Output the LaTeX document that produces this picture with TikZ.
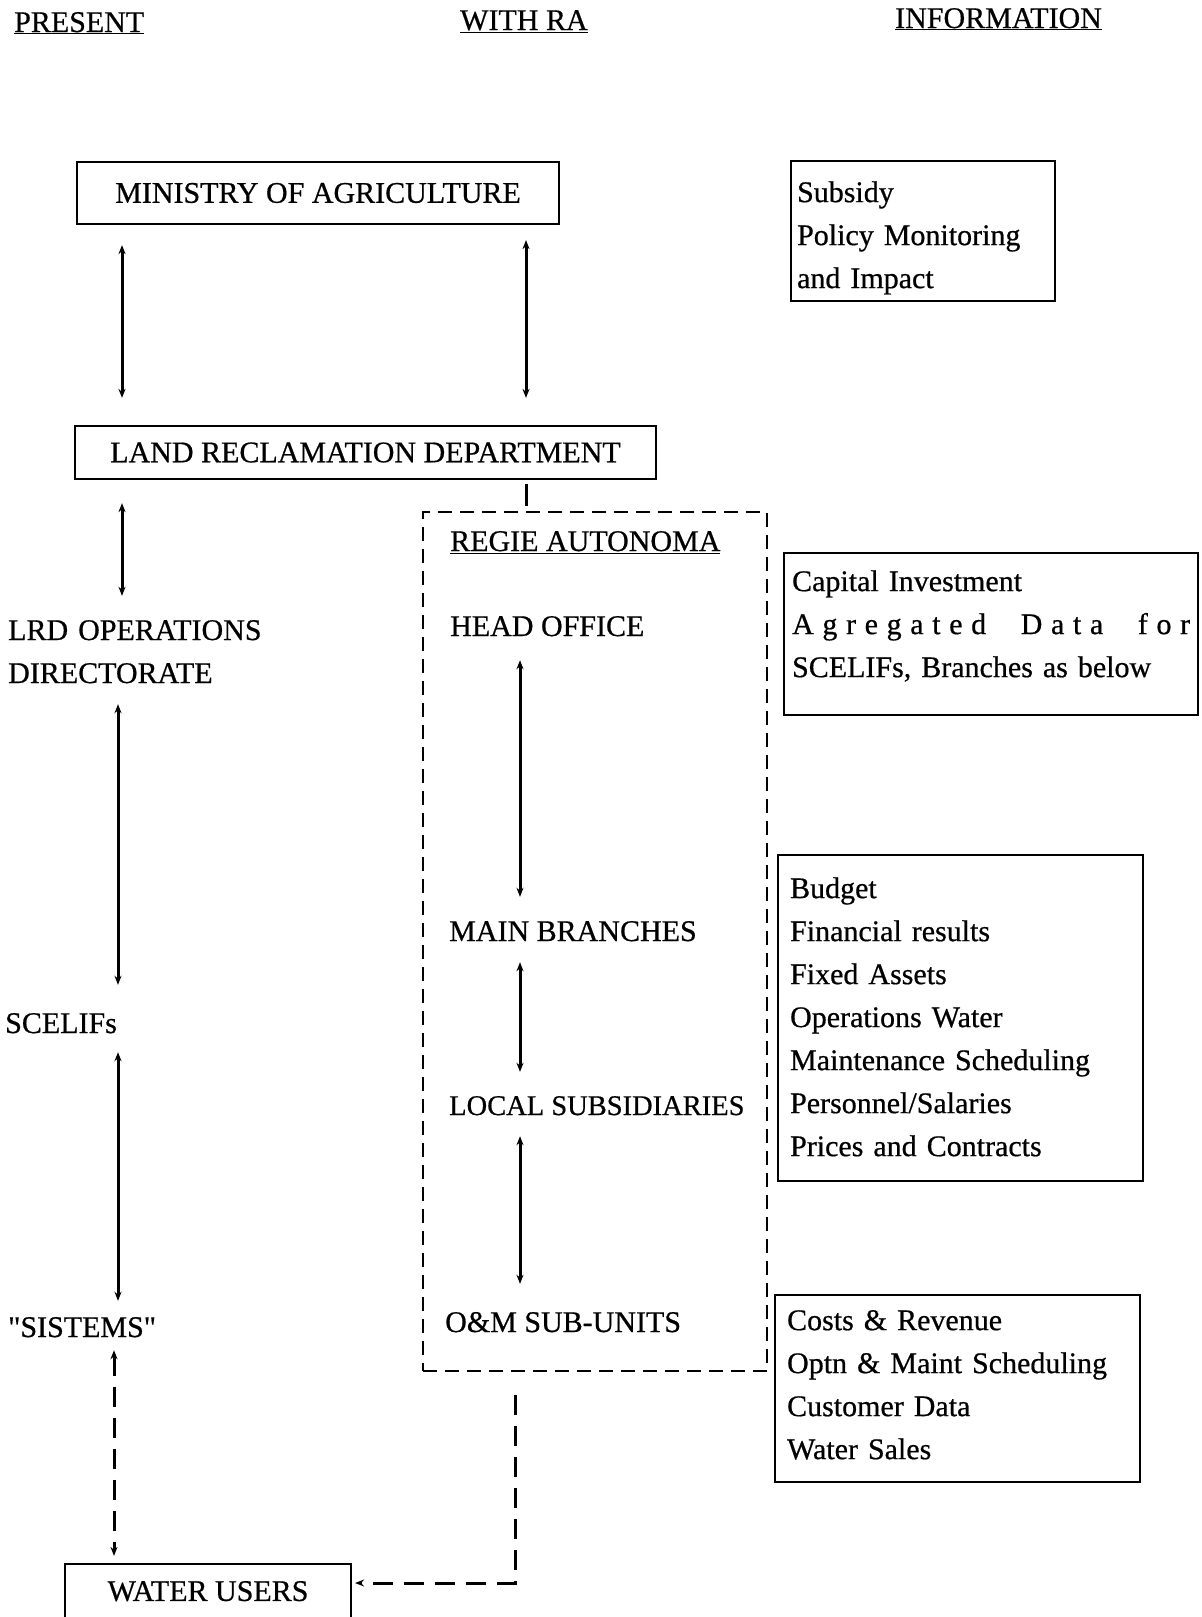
\documentclass[tikz,border=0pt]{standalone}
\usepackage{fontspec}
\setmainfont{Liberation Serif}[FakeBold=0.6, Ligatures=TeXOff]
\usetikzlibrary{arrows.meta}
\begin{document}
\begin{tikzpicture}[x=1pt,y=-1pt,
  every node/.style={font=\fontsize{30}{43}\selectfont},
  lbl/.style={inner sep=0pt, text height=22pt, text depth=8pt, anchor=base west},
  hdr/.style={inner sep=0pt, anchor=base west},
  orgbox/.style={draw, line width=2.2pt, inner sep=0pt},
  infobox/.style={draw, line width=2.2pt, inner ysep=0pt, align=left, anchor=north west},
  rabox/.style={draw, line width=2.6pt, dash pattern=on 14pt off 8pt, inner sep=0pt},
  tip/.tip={Stealth[length=9pt,width=7pt]},
  conn/.style={line width=3pt, tip-tip},
  plain/.style={line width=3pt},
  dconn/.style={line width=3pt, dash pattern=on 20pt off 11pt}
]
\clip (0,0) rectangle (1202,1617);
\fill[white] (0,0) rectangle (1202,1617);

% column headings
\node[hdr] (hpresent) at (14,32) {\underline{PRESENT}};
\node[hdr] (hwithra)  at (460,30) {\underline{WITH RA}};
\node[hdr] (hinfo)    at (895,28) {\underline{INFORMATION}};

% shared organisations
\node[orgbox, minimum width=482pt, minimum height=62pt] (moa) at (318,193) {MINISTRY OF AGRICULTURE};
\node[orgbox, minimum width=581pt, minimum height=53pt] (lrd) at (365.5,452.5) {LAND RECLAMATION DEPARTMENT};

% present structure
\node[lbl, text width=300pt, align=left, text depth=51pt] (ops) at (8,640) {LRD OPERATIONS\\DIRECTORATE};
\node[lbl] (scel) at (5,1033) {SCELIFs};
\node[lbl] (sist) at (8,1337) {"SISTEMS"};
\node[orgbox, minimum width=286pt, minimum height=70pt, text depth=16pt] (wu) at (208,1599) {WATER USERS};

% regie autonoma structure
\node[rabox, minimum width=344pt, minimum height=859pt] (ra) at (595,941.5) {};
\node[lbl] (rahead) at (450,551) {\underline{REGIE AUTONOMA}};
\node[lbl] (ho) at (450,636) {HEAD OFFICE};
\node[lbl] (mb) at (449,941) {MAIN BRANCHES};
\node[lbl, font=\fontsize{28.5}{43}\selectfont] (ls) at (449,1115) {LOCAL SUBSIDIARIES};
\node[lbl] (om) at (445,1332) {O\&M SUB-UNITS};

% information boxes
\node[infobox, inner xsep=6pt, text width=252pt, text height=41pt, text depth=99pt] (inf1) at (790,160)
  {Subsidy\\Policy Monitoring\\and Impact};
\node[infobox, inner xsep=8pt, text width=398pt, text height=38pt, text depth=124pt] (inf2) at (783,552)
  {Capital Investment\\\makebox[\linewidth][s]{A\hfil g\hfil r\hfil e\hfil g\hfil a\hfil t\hfil e\hfil d\hfil\hfil\hfil\hfil D\hfil a\hfil t\hfil a\hfil\hfil\hfil\hfil f\hfil o\hfil r}\\SCELIFs, Branches as below};
\node[infobox, inner xsep=12pt, text width=341pt, text height=43pt, text depth=283pt] (inf3) at (777,854)
  {Budget\\Financial results\\Fixed Assets\\Operations Water\\Maintenance Scheduling\\Personnel/Salaries\\Prices and Contracts};
\node[infobox, inner xsep=12pt, text width=341pt, text height=35pt, text depth=152pt] (inf4) at (774,1294)
  {Costs \& Revenue\\Optn \& Maint Scheduling\\Customer Data\\Water Sales};

% connector columns
\coordinate (lxa) at (122,0);
\coordinate (lxb) at (118,0);
\coordinate (lxc) at (114,0);
\coordinate (rxa) at (526,0);
\coordinate (rxb) at (520,0);
\coordinate (bend) at (515,1583);

% connectors
\draw[conn, shorten <=20pt, shorten >=27pt] (moa.south -| lxa) -- (lrd.north -| lxa);
\draw[conn, shorten <=15pt, shorten >=27pt] (moa.south -| rxa) -- (lrd.north -| rxa);
\draw[conn, shorten <=23pt, shorten >=22pt] (lrd.south -| lxa) -- (ops.north -| lxa);
\draw[plain, shorten <=4pt, shorten >=5pt] (lrd.south -| rxa) -- (ra.north -| rxa);
\draw[conn, shorten <=13pt, shorten >=26pt] (ops.south -| lxb) -- (scel.north -| lxb);
\draw[conn, shorten <=11pt, shorten >=14pt] (scel.south -| lxb) -- (sist.north -| lxb);
\draw[dconn, tip-tip, shorten <=5pt, shorten >=7pt] (sist.south -| lxc) -- (wu.north -| lxc);
\draw[conn, shorten <=16pt, shorten >=22pt] (ho.south -| rxb) -- (mb.north -| rxb);
\draw[conn, shorten <=13pt, shorten >=21pt] (mb.south -| rxb) -- (ls.north -| rxb);
\draw[conn, shorten <=13pt, shorten >=26pt] (ls.south -| rxb) -- (om.north -| rxb);
\draw[dconn, -tip, shorten <=23pt, shorten >=3pt] (ra.south -| bend) -- (bend) -- (bend -| wu.east);
\end{tikzpicture}
\end{document}
